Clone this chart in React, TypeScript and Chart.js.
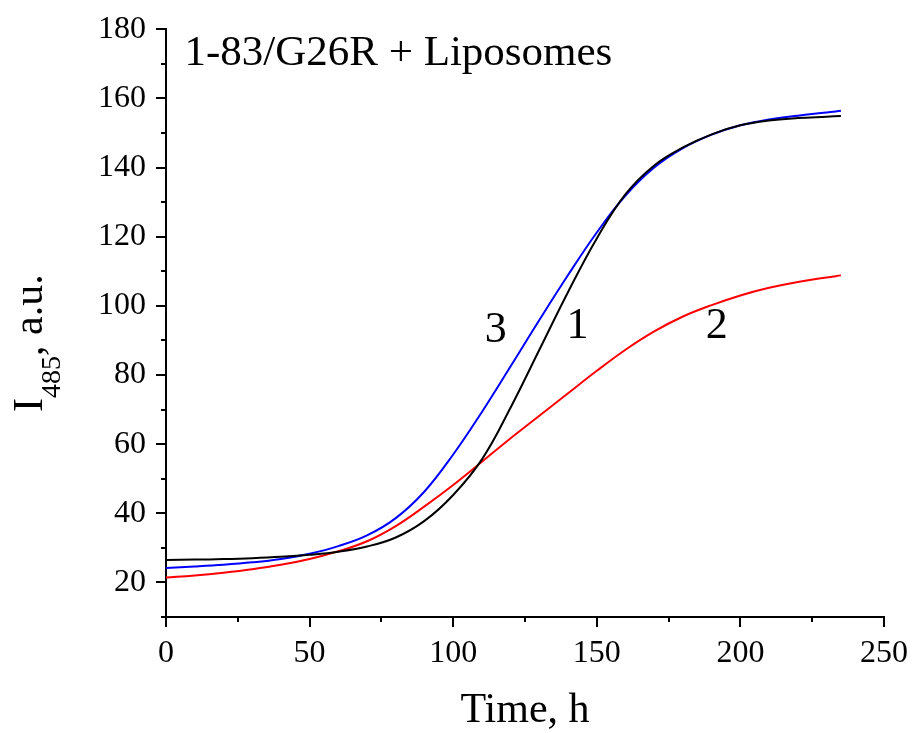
import React, { useEffect, useRef } from "react";
import { Chart, registerables } from "chart.js";

Chart.register(...registerables);

const times = [0, 10, 20, 30, 40, 50, 60, 70, 80, 90, 100, 110, 120, 130, 140, 150, 160, 170, 180, 190, 200, 210, 220, 230, 235];
const curve1 = [26.5, 26.6, 26.75, 27.0, 27.4, 28.0, 28.9, 30.4, 33.0, 37.8, 45.3, 55.6, 70.6, 87.3, 104.0, 119.5, 132.3, 140.6, 145.8, 149.6, 152.2, 153.6, 154.3, 154.7, 154.9];
const curve2 = [21.4, 22.0, 22.8, 23.8, 25.1, 26.8, 29.0, 31.9, 36.3, 42.0, 48.2, 54.9, 61.7, 68.2, 74.7, 81.2, 87.3, 92.6, 96.9, 100.2, 103.0, 105.2, 106.9, 108.2, 108.8];
const curve3 = [24.2, 24.6, 25.1, 25.8, 26.8, 28.3, 30.5, 33.6, 38.6, 46.3, 57.0, 69.3, 82.5, 95.9, 108.9, 121.2, 131.9, 140.0, 145.6, 149.5, 152.2, 153.9, 155.0, 155.9, 156.4];

const xTicks = [0, 50, 100, 150, 200, 250];
const xMinorTicks = [25, 75, 125, 175, 225];
const yTicks = [20, 40, 60, 80, 100, 120, 140, 160, 180];
const yMinorTicks = [10, 30, 50, 70, 90, 110, 130, 150, 170];

const seriesLabels = ["1", "2", "3"];
const seriesColors = ["#000000", "#ff0000", "#0000ff"];
const curveLabelPos = [
  { text: "1", x: 143.3, y: 93.9 },
  { text: "2", x: 191.8, y: 94.1 },
  { text: "3", x: 114.8, y: 92.9 },
];
const titleText = "1-83/G26R + Liposomes";
const xTitle = "Time, h";

const FONT = "'Liberation Serif', 'Times New Roman', serif";

const decorPlugin = {
  id: "decor",
  afterDraw(chart: any) {
    const ctx = chart.ctx;
    const xs = chart.scales.x;
    const ys = chart.scales.y;
    const area = chart.chartArea;
    ctx.save();
    // minor ticks
    ctx.strokeStyle = "#000";
    ctx.lineWidth = 2;
    ctx.beginPath();
    xMinorTicks.forEach((v) => {
      const px = Math.round(xs.getPixelForValue(v));
      ctx.moveTo(px, area.bottom);
      ctx.lineTo(px, area.bottom + 5);
    });
    yMinorTicks.forEach((v) => {
      const py = Math.round(ys.getPixelForValue(v));
      ctx.moveTo(area.left, py);
      ctx.lineTo(area.left - 5, py);
    });
    ctx.stroke();

    // curve labels
    ctx.fillStyle = "#000";
    ctx.font = `44px ${FONT}`;
    ctx.textAlign = "center";
    ctx.textBaseline = "middle";
    curveLabelPos.forEach((l) => {
      ctx.fillText(l.text, xs.getPixelForValue(l.x), ys.getPixelForValue(l.y));
    });

    // title inside plot
    ctx.font = `43px ${FONT}`;
    ctx.textAlign = "left";
    ctx.textBaseline = "alphabetic";
    ctx.fillText(titleText, xs.getPixelForValue(6.4), ys.getPixelForValue(169.7));

    // x title
    ctx.font = `42px ${FONT}`;
    ctx.textAlign = "center";
    ctx.fillText(xTitle, (area.left + area.right) / 2, area.bottom + 105);

    // y title with subscript
    ctx.translate(area.left - 124, area.bottom - 205);
    ctx.rotate(-Math.PI / 2);
    ctx.textAlign = "left";
    ctx.font = `42px ${FONT}`;
    ctx.fillText("I", 0, 0);
    let w = ctx.measureText("I").width;
    ctx.font = `28px ${FONT}`;
    ctx.fillText("485", w, 18);
    w += ctx.measureText("485").width;
    ctx.font = `42px ${FONT}`;
    ctx.fillText(", a.u.", w, 0);
    ctx.restore();
  },
};

export default function App() {
  const ref = useRef<HTMLCanvasElement>(null);
  useEffect(() => {
    if (!ref.current) return;
    const chart = new Chart(ref.current, {
      type: "line",
      data: {
        datasets: [curve1, curve2, curve3].map((c, i) => ({
          label: seriesLabels[i],
          data: times.map((t, j) => ({ x: t, y: c[j] })),
          borderColor: seriesColors[i],
          borderWidth: 2,
          pointRadius: 0,
          fill: false,
          tension: 0.4,
        })),
      },
      options: {
        responsive: false,
        animation: false,
        layout: { padding: { top: 29, right: 29, left: 0, bottom: 0 } },
        plugins: { legend: { display: false }, tooltip: { enabled: false }, title: { display: false } },
        scales: {
          x: {
            type: "linear",
            min: 0,
            max: 250,
            afterBuildTicks: (s: any) => {
              s.ticks = xTicks.map((v) => ({ value: v }));
            },
            afterFit: (s: any) => {
              s.height = 116;
            },
            grid: { display: true, drawOnChartArea: false, drawTicks: true, tickLength: 10, color: "#000", lineWidth: 2 },
            border: { display: true, color: "#000", width: 2 },
            ticks: { color: "#000", font: { family: FONT, size: 32 }, padding: 7, maxRotation: 0 },
          },
          y: {
            type: "linear",
            min: 10,
            max: 180,
            afterBuildTicks: (s: any) => {
              s.ticks = yTicks.map((v) => ({ value: v }));
            },
            afterFit: (s: any) => {
              s.width = 166;
            },
            grid: { display: true, drawOnChartArea: false, drawTicks: true, tickLength: 10, color: "#000", lineWidth: 2 },
            border: { display: true, color: "#000", width: 2 },
            ticks: { color: "#000", font: { family: FONT, size: 32 }, padding: 10 },
          },
        },
      },
      plugins: [decorPlugin],
    });
    return () => chart.destroy();
  }, []);
  return (
    <div style={{ position: "fixed", left: 0, top: 0, width: 915, height: 733, background: "#fff" }}>
      <canvas ref={ref} width={915} height={733} />
    </div>
  );
}
